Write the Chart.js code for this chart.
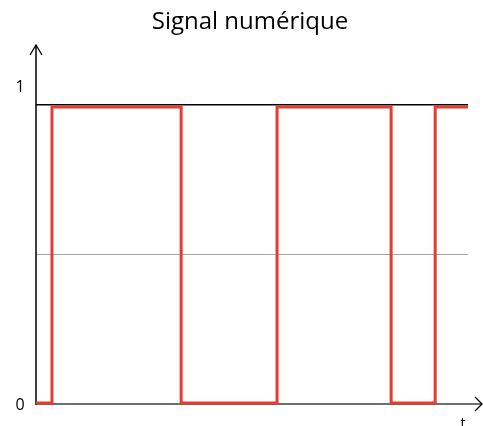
<!DOCTYPE html>
<html>
<head>
<meta charset="utf-8">
<script src="https://cdn.jsdelivr.net/npm/chart.js@4/dist/chart.umd.min.js"></script>
<style>
  html, body { margin: 0; padding: 0; background: #ffffff; }
  #wrap { width: 483px; height: 426px; }
</style>
</head>
<body>
<div id="wrap"><canvas id="chartjs-0"></canvas></div>
<script>
// signal data - time of each change and the level reached there
var times = [0, 3.7, 33.6, 55.8, 82.2, 92.4, 100];
var levels = [0.003, 0.993, 0.003, 0.993, 0.003, 0.993, 0.993];
var tickValues = [0, 1];
var tickLabels = ["0", "1"];
var midLine = 0.5;
var chartTitle = "Signal numérique";
var axisName = "t";

var points = [];
for (var i = 0; i < times.length; i++) {
    points.push({ x: times[i], y: levels[i] });
}

/* draws the axes with arrows, the reference lines and the texts */
var axesPlugin = {
    id: "axesPlugin",
    beforeDatasetsDraw: function (chart) {
        var ctx = chart.ctx;
        var xs = chart.scales.x;
        var ys = chart.scales.y;
        var left = xs.getPixelForValue(0);
        var right = xs.getPixelForValue(100);
        var y0 = ys.getPixelForValue(0);
        var y1 = ys.getPixelForValue(tickValues[1]);
        var yMid = ys.getPixelForValue(midLine);
        var top = ys.getPixelForValue(1.2);

        ctx.save();
        // grey line at half level
        ctx.strokeStyle = "#a6a6a6";
        ctx.lineWidth = 1;
        ctx.beginPath();
        ctx.moveTo(left, Math.round(yMid) + 0.5);
        ctx.lineTo(right, Math.round(yMid) + 0.5);
        ctx.stroke();

        // line at level 1
        ctx.strokeStyle = "#000000";
        ctx.lineWidth = 1.5;
        ctx.beginPath();
        ctx.moveTo(left, y1);
        ctx.lineTo(right, y1);
        ctx.stroke();

        // x axis with arrow
        ctx.strokeStyle = "#6e6e6e";
        ctx.lineWidth = 2;
        ctx.beginPath();
        ctx.moveTo(left, y0);
        ctx.lineTo(right + 14, y0);
        ctx.stroke();
        ctx.lineWidth = 1.3;
        ctx.strokeStyle = "#000000";
        ctx.beginPath();
        ctx.moveTo(right + 7, y0 - 7);
        ctx.lineTo(right + 14, y0);
        ctx.lineTo(right + 7, y0 + 7);
        ctx.stroke();

        // y axis with arrow
        ctx.strokeStyle = "#000000";
        ctx.lineWidth = 1.5;
        ctx.beginPath();
        ctx.moveTo(left, y0 + 1);
        ctx.lineTo(left, top);
        ctx.stroke();
        ctx.lineWidth = 1.3;
        ctx.beginPath();
        ctx.moveTo(left - 6, top + 10);
        ctx.lineTo(left, top);
        ctx.lineTo(left + 6, top + 10);
        ctx.stroke();

        // texts
        ctx.fillStyle = "#000000";
        ctx.font = "16px 'Open Sans', sans-serif";
        ctx.textAlign = "center";
        ctx.textBaseline = "middle";
        ctx.fillText(tickLabels[1], 20, y1 - 17);
        ctx.fillText(tickLabels[0], 20, y0 + 1);
        ctx.textBaseline = "top";
        ctx.font = "14px 'Open Sans', sans-serif";
        ctx.fillText(axisName, right - 5, y0 + 13);

        ctx.font = "24px 'Open Sans', sans-serif";
        ctx.textBaseline = "middle";
        ctx.fillText(chartTitle, 250, 22);
        ctx.restore();
    }
};

var ctx0 = document.getElementById("chartjs-0");
var myChart = new Chart(ctx0, {
    "type": "line",
    "data": {
        "datasets": [{
            "label": chartTitle,
            "data": points,
            "stepped": "before",
            "fill": false,
            "borderColor": "#e63b2e",
            "borderWidth": 3,
            "pointRadius": 0,
            "clip": 4
        }]
    },
    "options": {
        responsive: true,
        maintainAspectRatio: false,
        animation: false,
        layout: { padding: { left: 36, top: 45, right: 15, bottom: 22 } },
        plugins: {
            legend: { display: false },
            title: { display: false },
            tooltip: { enabled: false }
        },
        scales: {
            x: { type: "linear", min: 0, max: 100, display: false },
            y: { min: 0, max: 1.2, display: false }
        }
    },
    plugins: [axesPlugin]
});
</script>
</body>
</html>
